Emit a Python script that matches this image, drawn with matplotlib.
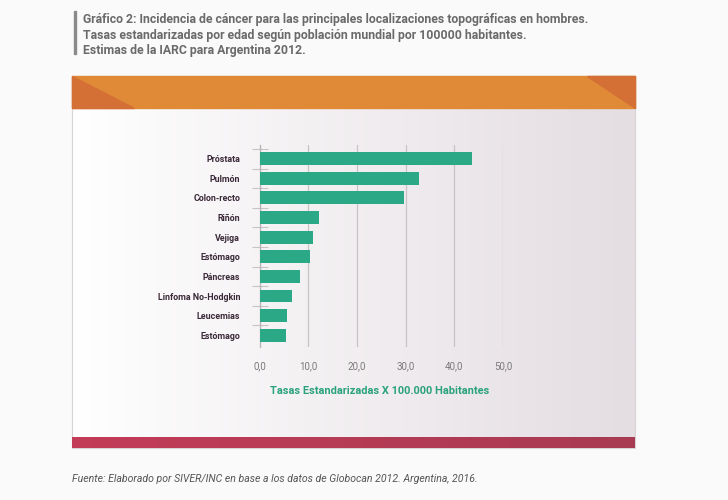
import numpy as np
import matplotlib
matplotlib.use('Agg')
import matplotlib.pyplot as plt
from matplotlib.patches import Polygon, Rectangle

# data
categorias = ['Próstata', 'Pulmón', 'Colon-recto', 'Riñón', 'Vejiga', 'Estómago',
              'Páncreas', 'Linfoma No-Hodgkin', 'Leucemias', 'Estómago']
tasas = [43.6, 32.7, 29.6, 12.3, 10.9, 10.3, 8.4, 6.6, 5.7, 5.5]
xticks = [0, 10, 20, 30, 40, 50]
xtick_labels = ['0,0', '10,0', '20,0', '30,0', '40,0', '50,0']

titulo = ('Gráfico 2: Incidencia de cáncer para las principales localizaciones topográficas en hombres.\n'
          'Tasas estandarizadas por edad según población mundial por 100000 habitantes.\n'
          'Estimas de la IARC para Argentina 2012.')
fuente = 'Fuente: Elaborado por SIVER/INC en base a los datos de Globocan 2012. Argentina, 2016.'
xlabel = 'Tasas Estandarizadas X 100.000 Habitantes'

fuentes = ['Roboto', 'DejaVu Sans']
verde = '#2BA886'

W, H = 728, 500
fig = plt.figure(figsize=(W / 100, H / 100), dpi=100)
fig.patch.set_facecolor('#FAFAFA')

# background layer in pixel coordinates
bg = fig.add_axes([0, 0, 1, 1])
bg.set_xlim(0, W)
bg.set_ylim(H, 0)
bg.axis('off')

# panel with soft horizontal gradient
grad = np.linspace(0, 1, 256).reshape(1, -1)
cmap_panel = matplotlib.colors.LinearSegmentedColormap.from_list('p', ['#FFFFFF', '#E4DDE2'])
bg.imshow(grad, extent=[72, 635, 437, 108], cmap=cmap_panel, aspect='auto', zorder=1)
bg.add_patch(Rectangle((72, 76), 563, 372, fill=False, ec='#D8D4D6', lw=0.8, zorder=2))

# orange header with darker corners
bg.add_patch(Rectangle((72, 76), 563, 32, color='#E08A38', zorder=3))
bg.add_patch(Polygon([(72, 76), (72, 108), (134, 108)], closed=True, color='#D46F36', zorder=4))
bg.add_patch(Polygon([(587, 76), (635, 76), (635, 108)], closed=True, color='#D46F36', zorder=4))

# red footer bar
cmap_red = matplotlib.colors.LinearSegmentedColormap.from_list('r', ['#C33C58', '#A83A52'])
bg.imshow(grad, extent=[72, 635, 448, 437], cmap=cmap_red, aspect='auto', zorder=3)

# title block
bg.add_patch(Rectangle((74, 11), 2, 43, color='#8A8A8A', zorder=3))
bg.text(83, 13, titulo, fontsize=8.8, fontweight='bold', color='#6A6A6A', family=fuentes,
        va='top', ha='left', linespacing=1.25, zorder=5)

bg.text(72, 479, fuente, fontsize=7.6, style='italic', color='#555555', family=fuentes,
        va='center', ha='left', zorder=5)

# chart
ax = fig.add_axes([259.5 / W, 1 - 347 / H, (503 - 259.5) / W, (347 - 145) / H])
ax.patch.set_alpha(0)
y = np.arange(len(categorias))
ax.barh(y, tasas, height=0.66, color=verde, zorder=3)
ax.set_xlim(0, 50)
ax.set_ylim(9.6, -0.7)

ax.set_xticks(xticks)
ax.set_xticklabels(xtick_labels, fontsize=7, color='#7A7A7A', family=fuentes)
ax.tick_params(axis='x', length=0, pad=10)
ax.grid(axis='x', color='#C8C4C6', lw=0.9, zorder=0)

ax.set_yticks(y)
ax.set_yticklabels(categorias, fontsize=6.4, fontweight='bold', color='#3B2A3A', family=fuentes)
ax.tick_params(axis='y', which='major', length=0, pad=14)
ax.set_yticks(np.arange(-0.5, 9.0, 1.0), minor=True)
ax.tick_params(axis='y', which='minor', length=12, direction='inout', color='#C8C4C6', width=0.8)

for s in ['top', 'right', 'bottom']:
    ax.spines[s].set_visible(False)
ax.spines['left'].set_color('#B8B4B6')
ax.spines['left'].set_linewidth(0.9)

fig.text(380 / W, 1 - 391 / H, xlabel, fontsize=7.9, fontweight='bold', color='#2AA27C',
         family=fuentes, ha='center', va='center')

fig.savefig('out.png', dpi=100, facecolor=fig.get_facecolor())
